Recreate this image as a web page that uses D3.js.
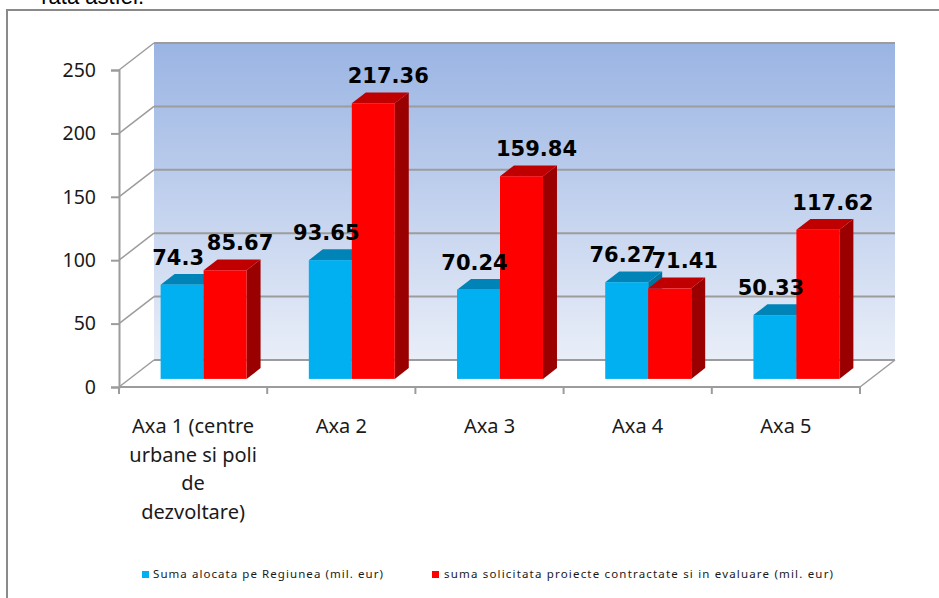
<!DOCTYPE html>
<html>
<head>
<meta charset="utf-8">
<script src="https://cdn.jsdelivr.net/npm/d3@7"></script>
<style>
  body { margin:0; background:#fff; }
  svg { display:block; }
</style>
</head>
<body>
<div id="chart"></div>
<script>
// chart values
var categories = [
  ['Axa 1 (centre', 'urbane si poli', 'de', 'dezvoltare)'],
  ['Axa 2'], ['Axa 3'], ['Axa 4'], ['Axa 5']
];
var seriesNames = ['Suma alocata pe Regiunea (mil. eur)',
  'suma solicitata proiecte contractate si in evaluare (mil. eur)'];
var alocata = [74.3, 93.65, 70.24, 76.27, 50.33];
var solicitata = [85.67, 217.36, 159.84, 71.41, 117.62];
var yTicks = [0, 50, 100, 150, 200, 250];

var svgWidth = 939, svgHeight = 598;

// front plane of the 3d box
var front = {l:119, r:860, t:70, b:387};
var depth = {x:35, y:27}; // how far the back wall sits from the front

var svg = d3.select('#chart').append('svg')
  .attr('width', svgWidth)
  .attr('height', svgHeight);

var defs = svg.append('defs');
var grad = defs.append('linearGradient')
  .attr('id', 'wall')
  .attr('x1', 0).attr('y1', 0).attr('x2', 0).attr('y2', 1);
grad.append('stop').attr('offset', '0%').attr('stop-color', '#9ab4e3');
grad.append('stop').attr('offset', '100%').attr('stop-color', '#e9eef8');

// outer frame of the chart (runs off the page right/bottom)
svg.append('rect')
  .attr('x', 7).attr('y', 10)
  .attr('width', 960).attr('height', 620)
  .attr('fill', 'none')
  .attr('stroke', '#8a8a8a')
  .attr('stroke-width', 2);

// cut text above the chart
svg.append('text')
  .attr('x', 144).attr('y', 4)
  .attr('text-anchor', 'end')
  .style('font-family', 'Liberation Sans, Arial')
  .style('font-size', '22px')
  .text('rata astfel.');

var x = d3.scaleBand()
  .domain(d3.range(categories.length))
  .range([front.l, front.r]);

var y = d3.scaleLinear()
  .domain([0, 250])
  .range([front.b, front.t]);

// project a point at depth t (0 = front, 1 = back)
function px(xv, t) { return xv + depth.x * t; }
function py(yv, t) { return yv - depth.y * t; }

var gridColor = '#9c9c9c';

// back wall
svg.append('rect')
  .attr('x', px(front.l, 1))
  .attr('y', py(y(250), 1))
  .attr('width', front.r - front.l)
  .attr('height', y(0) - y(250))
  .attr('fill', 'url(#wall)');

// gridlines on back wall + side wall diagonals
yTicks.forEach(function(v) {
  svg.append('line')
    .attr('x1', px(front.l, 1)).attr('x2', px(front.r, 1))
    .attr('y1', py(y(v), 1)).attr('y2', py(y(v), 1))
    .attr('stroke', gridColor).attr('stroke-width', 2);
  svg.append('line')
    .attr('x1', front.l).attr('x2', px(front.l, 1))
    .attr('y1', y(v)).attr('y2', py(y(v), 1))
    .attr('stroke', gridColor).attr('stroke-width', 1.5);
});

// floor right edge
svg.append('line')
  .attr('x1', front.r).attr('y1', y(0))
  .attr('x2', px(front.r, 1)).attr('y2', py(y(0), 1))
  .attr('stroke', gridColor).attr('stroke-width', 1.5);

var yAxis = svg.append('g')
  .attr('transform', 'translate(' + front.l + ',0)')
  .call(d3.axisLeft(y).tickValues(yTicks).tickSize(8).tickPadding(15));
yAxis.select('.domain').attr('stroke', gridColor).attr('stroke-width', 2);
yAxis.selectAll('.tick line').attr('stroke', gridColor).attr('stroke-width', 2);
yAxis.selectAll('.tick text')
  .attr('fill', '#1a1a1a')
  .style('font-family', 'Noto Sans')
  .style('font-size', '19.5px');

svg.append('line')
  .attr('x1', front.l).attr('x2', front.r)
  .attr('y1', y(0)).attr('y2', y(0))
  .attr('stroke', gridColor).attr('stroke-width', 2);

// category ticks at band edges
var edges = x.domain().map(function(d) { return x(d); }).concat([front.r]);
svg.append('g').selectAll('line')
  .data(edges)
  .enter()
  .append('line')
  .attr('x1', function(d) { return d; })
  .attr('x2', function(d) { return d; })
  .attr('y1', y(0)).attr('y2', y(0) + 7)
  .attr('stroke', gridColor).attr('stroke-width', 2);

// category labels
var catLabels = svg.append('g').selectAll('text')
  .data(categories)
  .enter()
  .append('text')
  .attr('text-anchor', 'middle')
  .attr('fill', '#1a1a1a')
  .style('font-family', 'Noto Sans')
  .style('font-size', '20px');
catLabels.each(function(lines, i) {
  var t = d3.select(this);
  lines.forEach(function(line, j) {
    t.append('tspan')
      .attr('x', x(i) + x.bandwidth() / 2)
      .attr('y', 433 + j * 28.5)
      .text(line);
  });
});

// bars
var series = [
  {values: alocata, front: '#00b0f0', top: '#0084b8', side: '#0074a0', shift: -4},
  {values: solicitata, front: '#ff0000', top: '#c00000', side: '#9a0000', shift: 15}
];
var t0 = 0.3, t1 = 0.7;
var inner = d3.scaleBand()
  .domain([0, 1])
  .range([x.bandwidth() * 0.21, x.bandwidth() * 0.79]);

var barData = [];
categories.forEach(function(c, i) {
  series.forEach(function(s, k) {
    barData.push({cat:i, k:k, v:s.values[i], s:s});
  });
});

var bars = svg.append('g').selectAll('g')
  .data(barData)
  .enter()
  .append('g');

bars.each(function(d) {
  var g = d3.select(this);
  var xl = x(d.cat) + inner(d.k), xr = xl + inner.bandwidth();
  var yt = y(d.v), yb = y(0);
  var pts = function(arr) { return arr.map(function(p) { return p.join(','); }).join(' '); };
  // side face
  g.append('polygon')
    .attr('points', pts([[px(xr, t0), py(yt, t0)], [px(xr, t1), py(yt, t1)],
      [px(xr, t1), py(yb, t1)], [px(xr, t0), py(yb, t0)]]))
    .attr('fill', d.s.side);
  // top face
  g.append('polygon')
    .attr('points', pts([[px(xl, t0), py(yt, t0)], [px(xr, t0), py(yt, t0)],
      [px(xr, t1), py(yt, t1)], [px(xl, t1), py(yt, t1)]]))
    .attr('fill', d.s.top);
  // front face
  g.append('rect')
    .attr('x', px(xl, t0))
    .attr('y', py(yt, t0))
    .attr('width', xr - xl)
    .attr('height', yb - yt)
    .attr('fill', d.s.front);
});

// value labels
svg.append('g').selectAll('text')
  .data(barData)
  .enter()
  .append('text')
  .attr('x', function(d) { return px(x(d.cat) + inner(d.k) + inner.bandwidth() / 2, t0) + d.s.shift; })
  .attr('y', function(d) { return py(y(d.v), t0) - 20; })
  .attr('text-anchor', 'middle')
  .attr('fill', '#000')
  .style('font-family', 'DejaVu Sans')
  .style('font-weight', 'bold')
  .style('font-size', '21px')
  .text(function(d) { return d.v; });

// legend
var legend = svg.append('g');
var legendPos = [{sx:142, tx:153, w:230}, {sx:432, tx:444, w:389}];
series.forEach(function(s, k) {
  legend.append('rect')
    .attr('x', legendPos[k].sx).attr('y', 571)
    .attr('width', 7).attr('height', 7)
    .attr('fill', s.front);
  legend.append('text')
    .attr('x', legendPos[k].tx).attr('y', 578)
    .attr('textLength', legendPos[k].w)
    .attr('fill', '#1a1a1a')
    .style('font-family', 'Noto Sans')
    .style('font-size', '11.5px')
    .text(seriesNames[k]);
});
</script>
</body>
</html>
